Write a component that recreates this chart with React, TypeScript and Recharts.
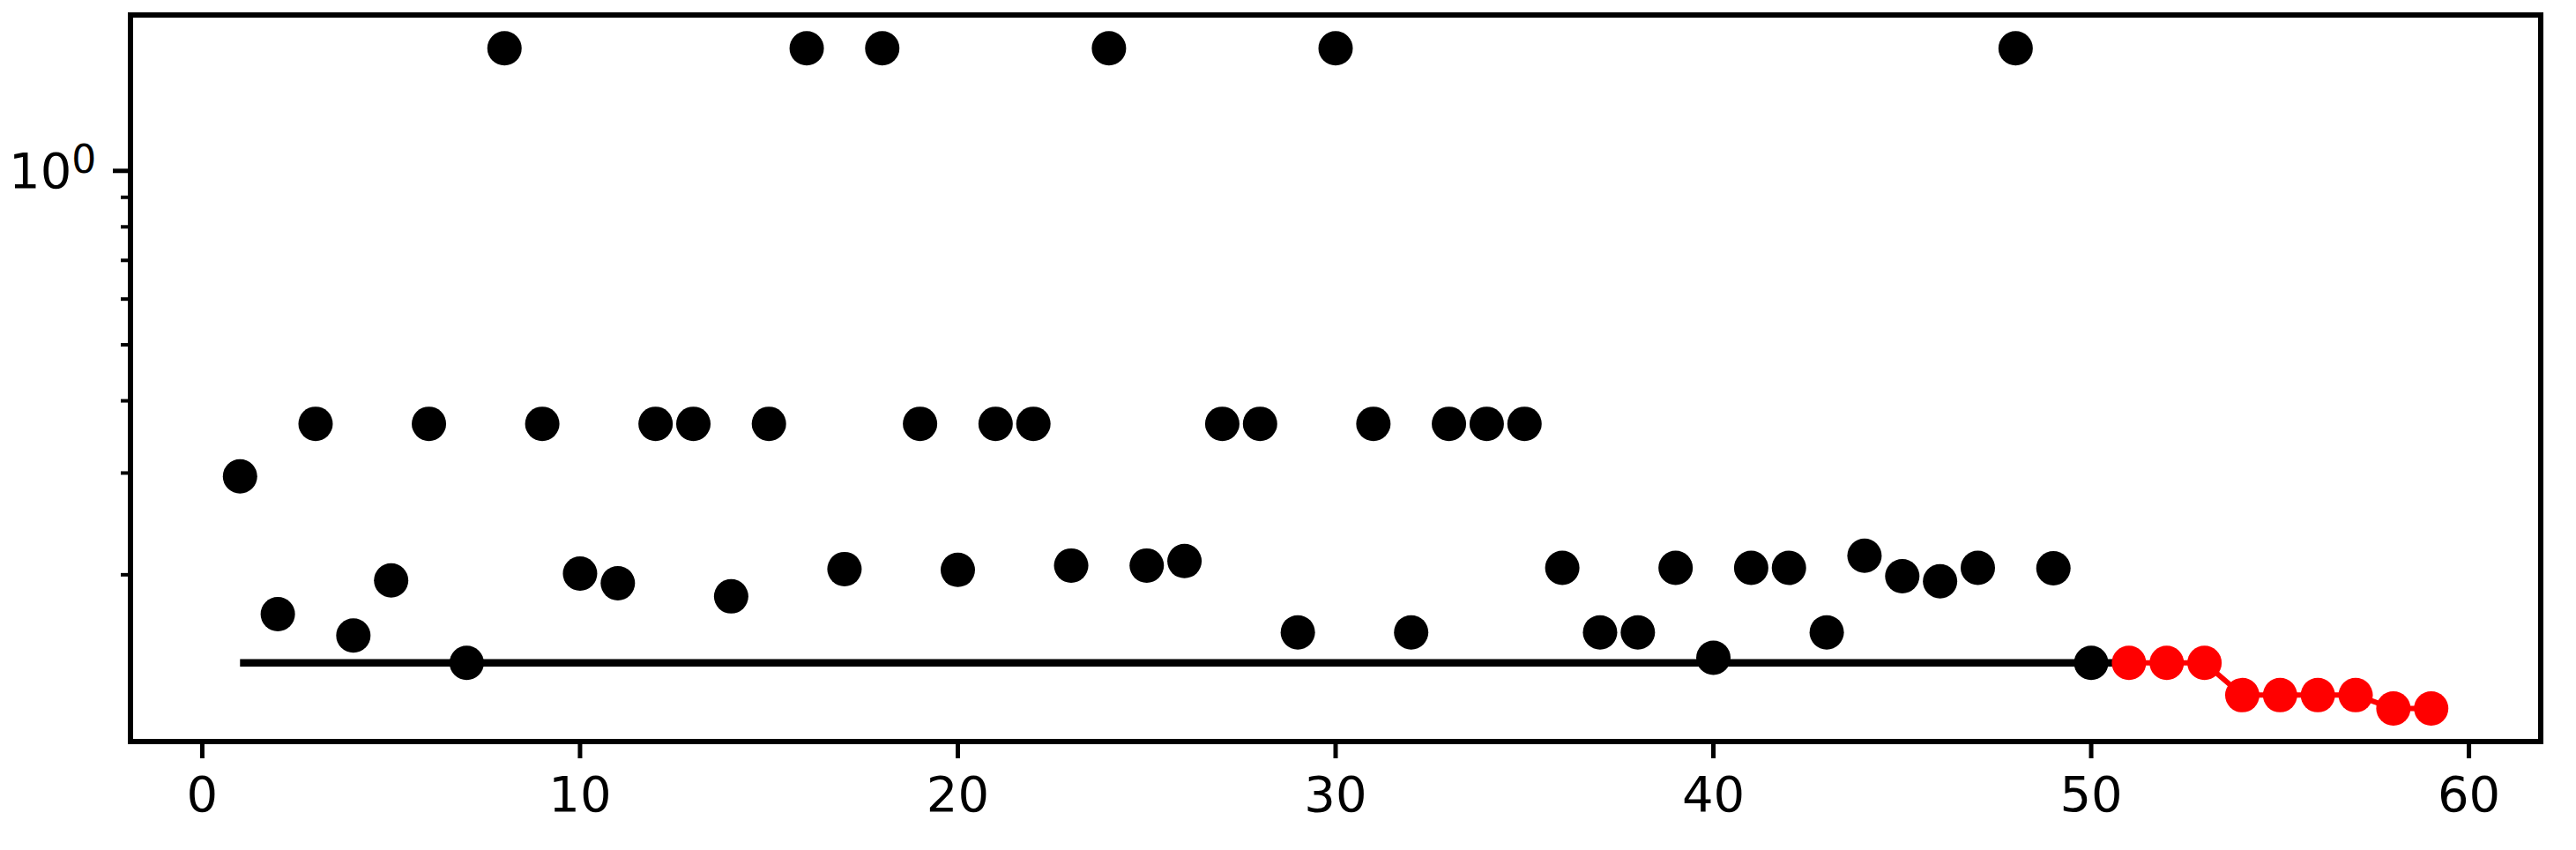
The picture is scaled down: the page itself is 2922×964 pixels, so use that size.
import { ComposedChart, Line, ReferenceArea, Scatter, XAxis, YAxis } from "recharts";

// sampled iterations
const initX = [
  1, 2, 3, 4, 5, 6, 7, 8, 9, 10, 11, 12, 13, 14, 15, 16, 17, 18, 19, 20, 21, 22, 23, 24, 25,
  26, 27, 28, 29, 30, 31, 32, 33, 34, 35, 36, 37, 38, 39, 40, 41, 42, 43, 44, 45, 46, 47, 48, 49, 50,
];
const initY = [
  0.296, 0.171, 0.365, 0.157, 0.1955, 0.365, 0.1408, 1.63, 0.365, 0.201,
  0.1934, 0.365, 0.365, 0.1835, 0.365, 1.63, 0.2046, 1.63, 0.365, 0.2039,
  0.365, 0.365, 0.2075, 1.63, 0.2075, 0.2112, 0.365, 0.365, 0.159, 1.63,
  0.365, 0.159, 0.365, 0.365, 0.365, 0.2056, 0.159, 0.159, 0.2056, 0.1437,
  0.2056, 0.2056, 0.159, 0.2158, 0.1989, 0.1949, 0.2056, 1.63, 0.2052, 0.1408,
];

// best-so-far baseline
const baseX = [1, 51];
const baseY = [0.1408, 0.1408];

// optimiser iterations
const optX = [51, 52, 53, 54, 55, 56, 57, 58, 59];
const optY = [0.1408, 0.1408, 0.1408, 0.1238, 0.1238, 0.1238, 0.1238, 0.1174, 0.1174];

const xTicks = [0, 10, 20, 30, 40, 50, 60];
const yTicks = [0.2, 0.3, 0.4, 0.5, 0.6, 0.7, 0.8, 0.9, 1];

const X_MIN = -1.9;
const X_MAX = 61.9;
const Y_MIN = 0.1029;
const Y_MAX = 1.861;

const PLOT_LEFT = 148;
const FONT = "'DejaVu Sans', sans-serif";

const initData = initX.map((x, i) => ({ x, y: initY[i] }));
const baseData = baseX.map((x, i) => ({ x, y: baseY[i] }));
const optData = optX.map((x, i) => ({ x, y: optY[i] }));

const Dot = (props: any) => <circle cx={props.cx} cy={props.cy} r={19.5} fill="#000000" />;

const YTick = ({ y, payload }: any) => {
  const major = payload.value === 1;
  return (
    <g>
      <line
        x1={PLOT_LEFT - (major ? 20 : 11)}
        x2={PLOT_LEFT}
        y1={y}
        y2={y}
        stroke="#000"
        strokeWidth={major ? 5 : 4}
      />
      {major && (
        <text x={10} y={y + 19.5} fontSize={56} fontFamily={FONT} fill="#000" textAnchor="start">
          10
          <tspan fontSize={44} dy={-17.5}>
            0
          </tspan>
        </text>
      )}
    </g>
  );
};

export default function App() {
  return (
    <div style={{ position: "absolute", left: 0, top: 0, width: 2922, height: 964, background: "#fff" }}>
      <ComposedChart width={2922} height={964} margin={{ top: 17, right: 40, bottom: 0, left: 0 }}>
        <XAxis
          type="number"
          dataKey="x"
          domain={[X_MIN, X_MAX]}
          ticks={xTicks}
          allowDataOverflow
          height={123}
          axisLine={false}
          tickLine={{ stroke: "#000", strokeWidth: 5 }}
          tickSize={19}
          tickMargin={20}
          tick={{ fontSize: 56, fill: "#000", fontFamily: FONT }}
        />
        <YAxis
          type="number"
          dataKey="y"
          scale="log"
          domain={[Y_MIN, Y_MAX]}
          ticks={yTicks}
          allowDataOverflow
          width={PLOT_LEFT}
          axisLine={false}
          tickLine={false}
          tick={<YTick />}
          interval={0}
        />
        <ReferenceArea
          x1={X_MIN}
          x2={X_MAX}
          y1={Y_MIN}
          y2={Y_MAX}
          fill="none"
          fillOpacity={0}
          stroke="#000"
          strokeWidth={6}
          ifOverflow="visible"
        />
        <Line
          data={baseData}
          dataKey="y"
          type="linear"
          stroke="#000"
          strokeWidth={8.5}
          dot={false}
          activeDot={false}
          isAnimationActive={false}
        />
        <Scatter data={initData} dataKey="y" shape={<Dot />} isAnimationActive={false} />
        <Line
          data={optData}
          dataKey="y"
          type="linear"
          stroke="#ff0000"
          strokeWidth={6}
          dot={{ r: 19.5, fill: "#ff0000", stroke: "none" }}
          activeDot={false}
          isAnimationActive={false}
        />
      </ComposedChart>
    </div>
  );
}
